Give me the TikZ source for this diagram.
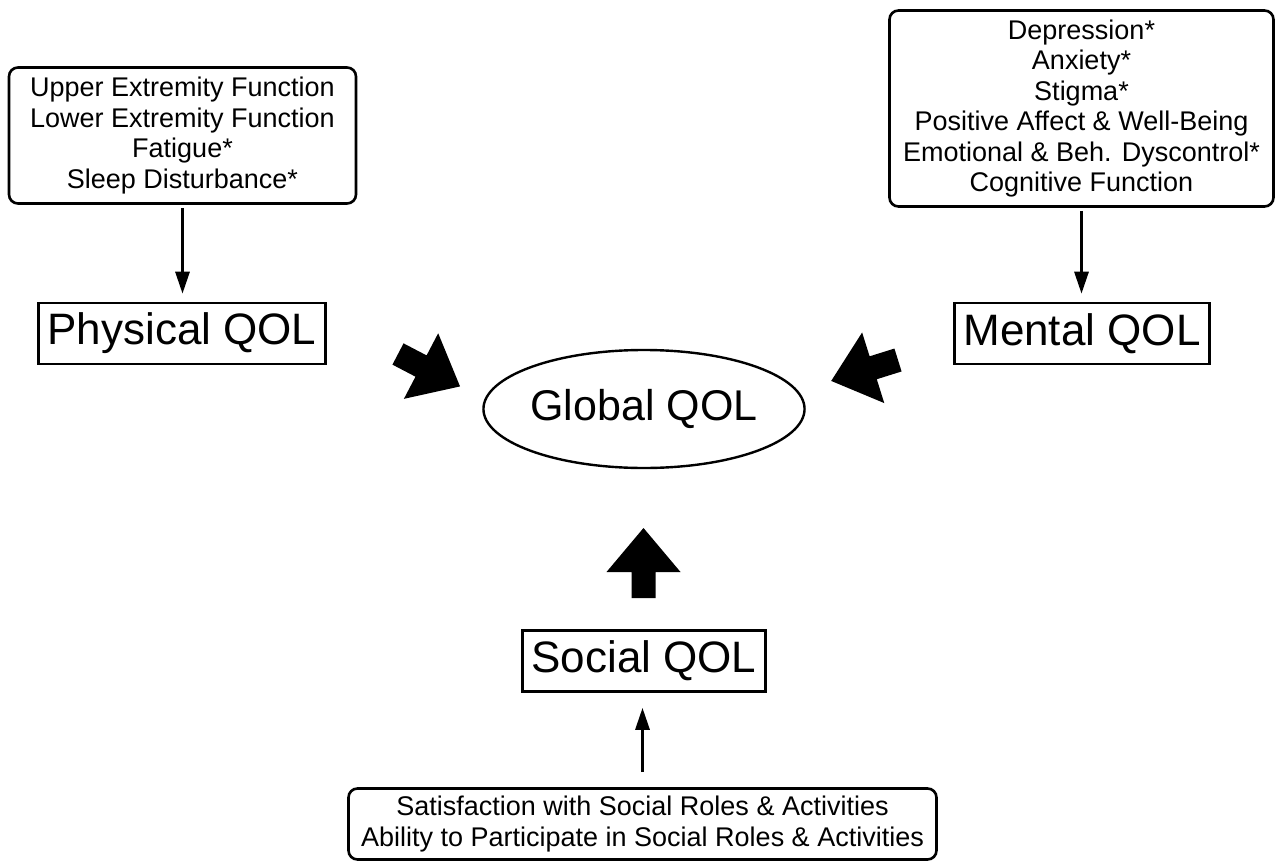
\documentclass[tikz,border=0pt]{standalone}
\usepackage{fontspec}
\setmainfont{Liberation Sans}
\usetikzlibrary{shapes.geometric,arrows.meta,positioning}

\tikzset{
  itembox/.style={draw, line width=2.6bp, rounded corners=9bp, align=center,
    inner sep=0pt, font=\fontsize{27bp}{30.5bp}\selectfont},
  qolbox/.style={draw, line width=2.6bp, minimum height=61bp, inner xsep=9bp,
    font=\fontsize{44bp}{50bp}\selectfont},
  thinarrow/.style={line width=3bp, -{Triangle[width=14bp,length=22bp]}},
  fatarrow/.style={fill=black},
}

\begin{document}
\begin{tikzpicture}[x=1bp,y=-1bp]
  \useasboundingbox (0,0) rectangle (1276,863);

  % domain boxes
  \node[itembox, minimum width=347bp, minimum height=136bp] (physitems) at (182.5,135.5)
    {Upper Extremity Function\\Lower Extremity Function\\Fatigue*\\Sleep Disturbance*};
  \node[itembox, minimum width=384bp, minimum height=196bp] (mentitems) at (1081.5,108.5)
    {Depression*\\Anxiety*\\Stigma*\\Positive Affect \& Well-Being\\Emotional \& Beh. Dyscontrol*\\Cognitive Function};
  \node[itembox, minimum width=588bp, minimum height=71bp] (socitems) at (642.5,824)
    {Satisfaction with Social Roles \& Activities\\Ability to Participate in Social Roles \& Activities};

  % QOL nodes
  \node[qolbox] (physqol) at (182,333.5) {Physical QOL};
  \node[qolbox] (mentqol) at (1082,333.5) {Mental QOL};
  \node[qolbox] (socqol) at (644,661) {Social QOL};
  \node[draw, ellipse, line width=2.4bp, minimum width=278bp, minimum height=118bp,
    inner sep=0pt, font=\fontsize{43bp}{50bp}\selectfont] (globqol) at (644,409) {Global QOL};

  % thin arrows
  \draw[thinarrow, shorten <=3bp, shorten >=8bp] (physitems.south) -- (physitems.south |- physqol.north);
  \draw[thinarrow, shorten <=3bp, shorten >=8bp] (mentitems.south) -- (mentitems.south |- mentqol.north);
  \draw[thinarrow, shorten <=15bp, shorten >=15bp] (socitems.north) -- (socitems.north |- socqol.south);

  % fat arrows into Global QOL
  \coordinate (physin) at (398,354);
  \coordinate (mentin) at (898,360);
  \coordinate (socin) at (643.5,598);
  \foreach \tl/\ang in {physin/-27.6, mentin/197.4, socin/90}
    \fill[fatarrow, shift={(\tl)}, rotate=\ang]
      (0,-12) -- (26,-12) -- (26,-37) -- (70,0) -- (26,37) -- (26,12) -- (0,12) -- cycle;
\end{tikzpicture}
\end{document}
